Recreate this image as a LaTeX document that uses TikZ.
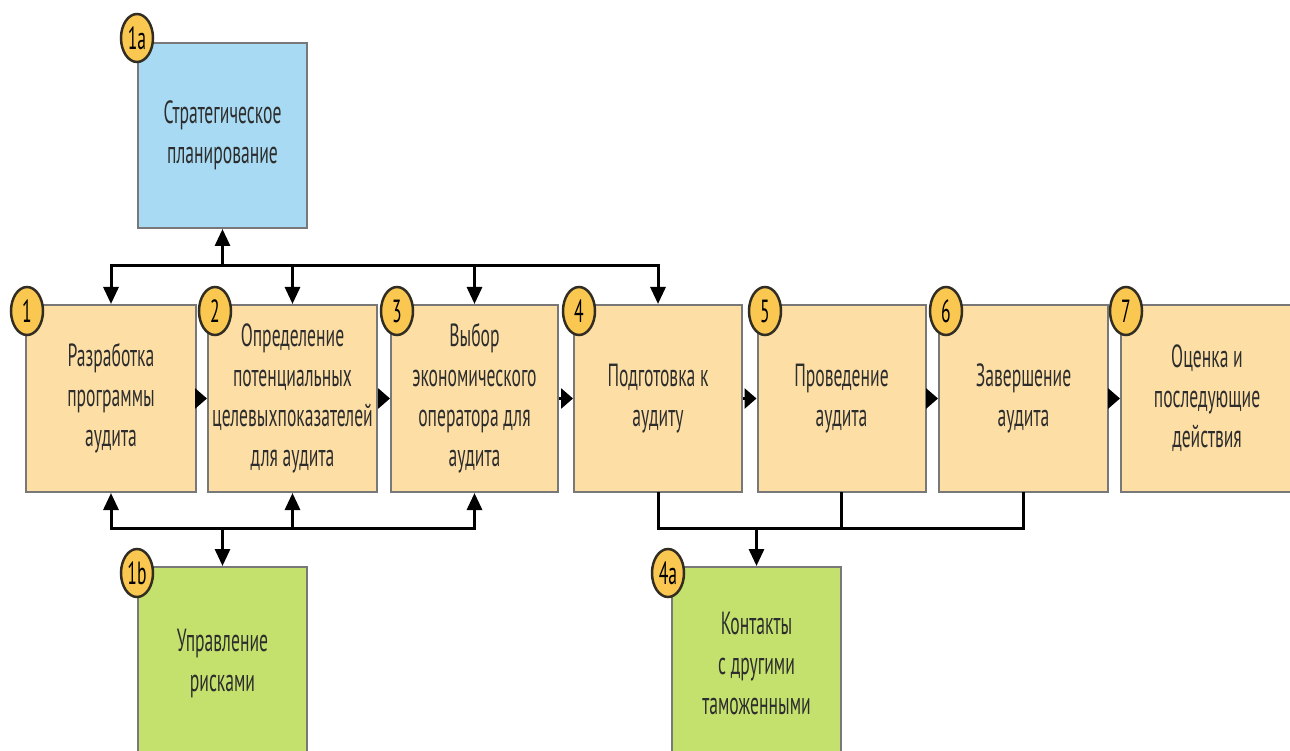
\documentclass[tikz,border=0pt]{standalone}
\usepackage{fontspec}
\setmainfont[FakeStretch=0.55]{PT Sans}
\usetikzlibrary{arrows.meta,shapes.geometric}
\definecolor{boxY}{RGB}{253,223,166}
\definecolor{boxB}{RGB}{168,219,243}
\definecolor{boxG}{RGB}{196,225,110}
\definecolor{badgeF}{RGB}{250,200,80}
\definecolor{badgeL}{RGB}{50,45,35}
\definecolor{boxL}{RGB}{120,120,120}
\definecolor{txt}{RGB}{45,45,45}
\begin{document}
\begin{tikzpicture}[x=1pt,y=-1pt,
  box/.style={draw=boxL,line width=2pt,inner sep=0pt,align=center,text=txt,
    font=\fontsize{32}{40}\selectfont},
  ybox/.style={box,fill=boxY,minimum height=187pt},
  badge/.style={ellipse,draw=badgeL,line width=2.5pt,fill=badgeF,minimum width=32pt,
    minimum height=48pt,inner sep=0pt,font=\fontsize{32}{32}\selectfont,text=black},
  conn/.style={line width=3pt,draw=black,line cap=rect,line join=miter},
  arr/.style={conn,-{Triangle[length=17pt,width=15pt]}},
  sarr/.style={line width=3pt,-{Triangle[length=12pt,width=20pt]}}
]
\useasboundingbox (0,0) rectangle (1290,751);
\clip (0,0) rectangle (1290,751);
% boxes
\node[box,fill=boxB,minimum width=169pt,minimum height=185pt] (sp) at (222.5,135.5) {Стратегическое\\планирование};
\node[ybox,minimum width=170pt] (b1) at (111,398.5) {Разработка\\программы\\аудита};
\node[ybox,minimum width=169pt] (b2) at (292.5,398.5) {Определение\\потенциальных\\целевыхпоказателей\\для аудита};
\node[ybox,minimum width=167pt] (b3) at (474.5,398.5) {Выбор\\экономического\\оператора для\\аудита};
\node[ybox,minimum width=168pt] (b4) at (658,398.5) {Подготовка к\\аудиту};
\node[ybox,minimum width=168pt] (b5) at (841.5,398.5) {Проведение\\аудита};
\node[ybox,minimum width=169pt] (b6) at (1023.5,398.5) {Завершение\\аудита};
\node[ybox,minimum width=172pt] (b7) at (1207,398.5) {Оценка и\\последующие\\действия};
\node[box,fill=boxG,minimum width=169pt,minimum height=193pt] (rm) at (222.5,663.5) {Управление\\рисками};
\node[box,fill=boxG,minimum width=169pt,minimum height=193pt] (ct) at (756.5,663.5) {Контакты\\с другими\\таможенными};
% top bus
\coordinate (t1) at (b1.north |- 0,266);
\coordinate (t2) at (b2.north |- 0,266);
\coordinate (t3) at (b3.north |- 0,266);
\coordinate (t4) at (b4.north |- 0,266);
\coordinate (ts) at (sp.south |- 0,266);
\draw[conn] (t1) -- (t4);
\draw[arr] (ts) -- (sp.south);
\draw[arr] (t1) -- (b1.north);
\draw[arr] (t2) -- (b2.north);
\draw[arr] (t3) -- (b3.north);
\draw[arr] (t4) -- (b4.north);
% bottom-left bus
\coordinate (u1) at (b1.south |- 0,528);
\coordinate (u2) at (b2.south |- 0,528);
\coordinate (u3) at (b3.south |- 0,528);
\coordinate (ur) at (rm.north |- 0,528);
\draw[conn] (u1) -- (u3);
\draw[arr] (u1) -- (b1.south);
\draw[arr] (u2) -- (b2.south);
\draw[arr] (u3) -- (b3.south);
\draw[arr] (ur) -- (rm.north);
% bottom-right bus
\coordinate (v4) at (b4.south |- 0,528);
\coordinate (v5) at (b5.south |- 0,528);
\coordinate (v6) at (b6.south |- 0,528);
\coordinate (vc) at (ct.north |- 0,528);
\draw[conn] (b4.south) -- (v4) -- (v6) -- (b6.south);
\draw[conn] (b5.south) -- (v5);
\draw[arr] (vc) -- (ct.north);
% flow arrows
\draw[sarr] (b1.east) -- (b2.west);
\draw[sarr] (b2.east) -- (b3.west);
\draw[sarr] (b3.east) -- (b4.west);
\draw[sarr] (b4.east) -- (b5.west);
\draw[sarr] (b5.east) -- (b6.west);
\draw[sarr] (b6.east) -- (b7.west);
% badges
\node[badge] (n1a) at (137,38) {1a};
\node[badge] (n1) at (27,311) {1};
\node[badge] (n2) at (215,311) {2};
\node[badge] (n3) at (397,311) {3};
\node[badge] (n4) at (579,311) {4};
\node[badge] (n5) at (765,311) {5};
\node[badge] (n6) at (946,311) {6};
\node[badge] (n7) at (1126,311) {7};
\node[badge] (n1b) at (137,573) {1b};
\node[badge] (n4a) at (668,573) {4a};
\end{tikzpicture}
\end{document}
